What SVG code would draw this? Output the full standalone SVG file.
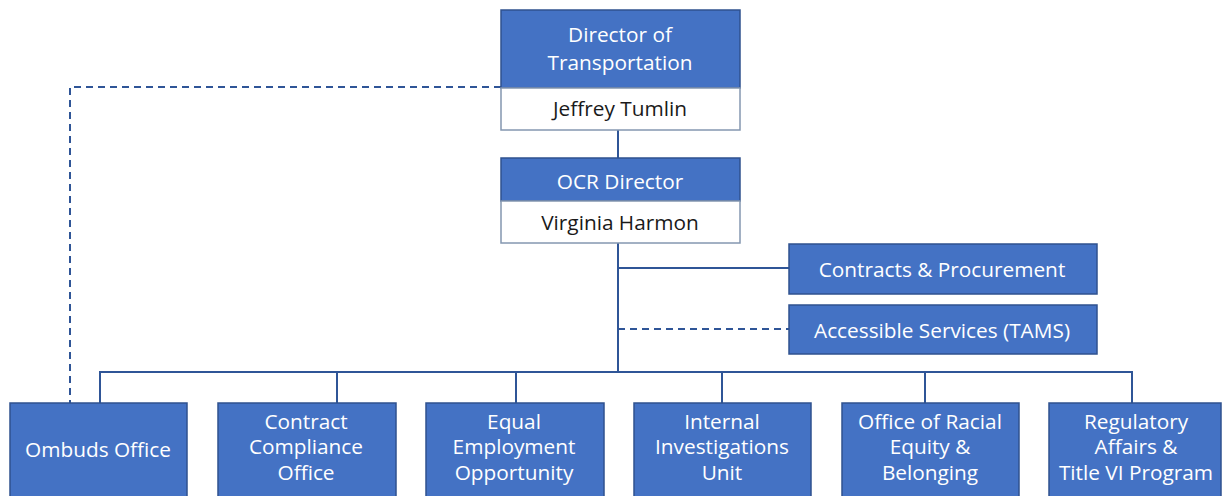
<svg xmlns="http://www.w3.org/2000/svg" width="1223" height="496" viewBox="0 0 1223 496">
<style>
.b{fill:#4472C4;stroke:#2F528F;stroke-width:1.5}
.w{fill:#FFFFFF;stroke:#8497B0;stroke-width:1.5}
.t{font-family:"Open Sans","Noto Sans",sans-serif;font-size:20.8px;text-anchor:middle;fill:#FFFFFF}
.k{font-family:"Open Sans","Noto Sans",sans-serif;font-size:20.8px;text-anchor:middle;fill:#1a1a1a}
.c{fill:none;stroke:#2F5597;stroke-width:2}
.d{fill:none;stroke:#2F5597;stroke-width:2;stroke-dasharray:7,5}
</style>
<rect width="1223" height="496" fill="#FFFFFF"/>
<g id="connectors">
<path class="c" d="M618,130V158M618,243V372M618,268H789M100,403V372H1132V403M337,372V403M516,372V403M722,372V403M925,372V403"/>
<path class="d" d="M501,87H70V403"/>
<path class="d" d="M618,329H789"/>
</g>
<g id="director">
<rect class="b" x="501" y="10" width="239" height="78"/>
<rect class="w" x="501" y="88" width="239" height="42"/>
<text class="t" x="620" y="42">Director of</text>
<text class="t" x="620" y="70">Transportation</text>
<text class="k" x="620" y="116">Jeffrey Tumlin</text>
</g>
<g id="ocr">
<rect class="b" x="501" y="158" width="239" height="43"/>
<text class="t" x="620" y="189">OCR Director</text>
<rect class="w" x="501" y="201" width="239" height="42"/>
<text class="k" x="620" y="230">Virginia Harmon</text>
</g>
<g id="contracts">
<rect class="b" x="789" y="244" width="308" height="50"/>
<text class="t" x="942" y="277">Contracts &amp; Procurement</text>
</g>
<g id="accessible">
<rect class="b" x="789" y="305" width="308" height="49"/>
<text class="t" x="942" y="338">Accessible Services (TAMS)</text>
</g>
<g id="ombuds">
<rect class="b" x="10" y="403" width="177" height="100"/>
<text class="t" x="98" y="457">Ombuds Office</text>
</g>
<g id="ccompliance">
<rect class="b" x="218" y="403" width="178" height="100"/>
<text class="t" x="306" y="429">Contract</text>
<text class="t" x="306" y="454">Compliance</text>
<text class="t" x="306" y="480">Office</text>
</g>
<g id="eeo">
<rect class="b" x="426" y="403" width="178" height="100"/>
<text class="t" x="514" y="429">Equal</text>
<text class="t" x="514" y="454">Employment</text>
<text class="t" x="514" y="480">Opportunity</text>
</g>
<g id="internal">
<rect class="b" x="634" y="403" width="177" height="100"/>
<text class="t" x="722" y="429">Internal</text>
<text class="t" x="722" y="454">Investigations</text>
<text class="t" x="722" y="480">Unit</text>
</g>
<g id="racial">
<rect class="b" x="842" y="403" width="177" height="100"/>
<text class="t" x="930" y="429">Office of Racial</text>
<text class="t" x="930" y="454">Equity &amp;</text>
<text class="t" x="930" y="480">Belonging</text>
</g>
<g id="regulatory">
<rect class="b" x="1049" y="403" width="172" height="100"/>
<text class="t" x="1136" y="429">Regulatory</text>
<text class="t" x="1136" y="454">Affairs &amp;</text>
<text class="t" x="1136" y="480">Title VI Program</text>
</g>
</svg>
